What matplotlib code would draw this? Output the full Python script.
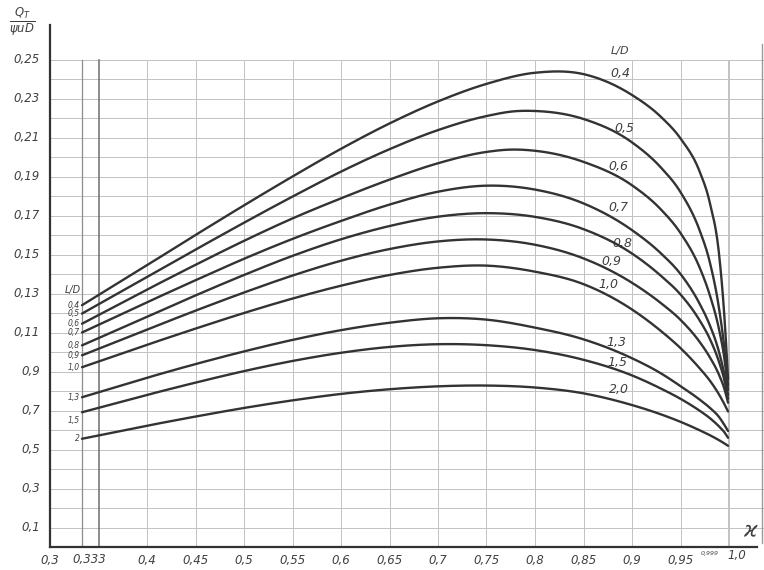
import numpy as np
import matplotlib
matplotlib.use("Agg")
import matplotlib.pyplot as plt

# ---------------------------------------------------------------
# Q_T / (psi u D) as a function of kappa for several L/D ratios
# ---------------------------------------------------------------
kappa = [0.333, 0.40, 0.45, 0.50, 0.55, 0.60, 0.65, 0.70, 0.75, 0.80,
         0.85, 0.90, 0.93, 0.95, 0.97, 0.98, 0.99, 0.995, 0.999]

kappa_04 = [0.333, 0.40, 0.45, 0.50, 0.55, 0.60, 0.65, 0.70, 0.75, 0.80,
            0.85, 0.90, 0.93, 0.95, 0.97, 0.98, 0.99, 0.995, 0.999]
q_04 = [0.124, 0.1445, 0.160, 0.1752, 0.190, 0.2042, 0.2172, 0.2285, 0.2375, 0.2432,
        0.2425, 0.2318, 0.2205, 0.2095, 0.1922, 0.177, 0.149, 0.120, 0.086]

kappa_05 = [0.333, 0.40, 0.45, 0.50, 0.55, 0.60, 0.65, 0.70, 0.75, 0.78,
            0.80, 0.85, 0.90, 0.93, 0.95, 0.97, 0.98, 0.99, 0.995, 0.999]
q_05 = [0.1197, 0.1385, 0.1525, 0.1663, 0.1797, 0.1925, 0.204, 0.2138, 0.221, 0.2235,
        0.2236, 0.2195, 0.2075, 0.1945, 0.182, 0.162, 0.1465, 0.1215, 0.103, 0.083]

kappa_06 = [0.333, 0.40, 0.45, 0.50, 0.55, 0.60, 0.65, 0.70, 0.75, 0.775,
            0.80, 0.85, 0.90, 0.93, 0.95, 0.97, 0.98, 0.99, 0.995, 0.999]
q_06 = [0.1145, 0.132, 0.1447, 0.157, 0.1685, 0.1788, 0.1884, 0.1968, 0.2026, 0.2038,
        0.2032, 0.1975, 0.1855, 0.173, 0.161, 0.143, 0.1295, 0.111, 0.0975, 0.0805]

q_07 = [0.110, 0.1255, 0.1368, 0.1478, 0.1580, 0.1672, 0.1756, 0.1822, 0.1853, 0.1833,
        0.1762, 0.1625, 0.1505, 0.140, 0.1245, 0.114, 0.0995, 0.089, 0.078]
q_08 = [0.1034, 0.118, 0.129, 0.1395, 0.1493, 0.1578, 0.1646, 0.1694, 0.1712, 0.1693,
        0.163, 0.1505, 0.139, 0.1295, 0.116, 0.107, 0.0945, 0.086, 0.076]
q_09 = [0.0983, 0.1115, 0.1212, 0.1305, 0.1392, 0.1468, 0.1528, 0.1567, 0.1577, 0.155,
        0.148, 0.1355, 0.125, 0.1165, 0.105, 0.0975, 0.088, 0.0815, 0.074]
q_10 = [0.0922, 0.1037, 0.112, 0.120, 0.1274, 0.134, 0.1395, 0.1432, 0.1443, 0.1412,
        0.1348, 0.1218, 0.1107, 0.102, 0.0915, 0.0855, 0.078, 0.0735, 0.0695]
q_13 = [0.0768, 0.0868, 0.0938, 0.1003, 0.1062, 0.1112, 0.1150, 0.1173, 0.1166, 0.1125,
        0.1065, 0.0968, 0.089, 0.0825, 0.0755, 0.0715, 0.0665, 0.0628, 0.0595]
q_15 = [0.0691, 0.078, 0.0843, 0.0902, 0.0954, 0.0996, 0.1026, 0.104, 0.1035, 0.101,
        0.096, 0.088, 0.0812, 0.076, 0.0698, 0.0662, 0.0617, 0.059, 0.056]
q_20 = [0.0555, 0.0622, 0.0669, 0.0713, 0.0752, 0.0785, 0.0809, 0.0824, 0.0828, 0.0818,
        0.0788, 0.0728, 0.068, 0.0642, 0.0598, 0.0574, 0.0547, 0.0532, 0.0519]

ratio_right = ["0,4", "0,5", "0,6", "0,7", "0,8", "0,9", "1,0", "1,3", "1,5", "2,0"]
ratio_left = ["0,4", "0,5", "0,6", "0,7", "0,8", "0,9", "1,0", "1,3", "1,5", "2"]

x_ticks = [0.30, 0.40, 0.45, 0.50, 0.55, 0.60, 0.65, 0.70, 0.75, 0.80, 0.85, 0.90, 0.95]
x_tick_text = ["0,3", "0,4", "0,45", "0,5", "0,55", "0,6", "0,65", "0,7", "0,75",
               "0,8", "0,85", "0,9", "0,95"]
y_ticks = [0.01, 0.03, 0.05, 0.07, 0.09, 0.11, 0.13, 0.15, 0.17, 0.19, 0.21, 0.23, 0.25]
y_tick_text = ["0,1", "0,3", "0,5", "0,7", "0,9", "0,11", "0,13", "0,15", "0,17",
               "0,19", "0,21", "0,23", "0,25"]

curves = [(kappa_04, q_04), (kappa_05, q_05), (kappa_06, q_06), (kappa, q_07),
          (kappa, q_08), (kappa, q_09), (kappa, q_10), (kappa, q_13),
          (kappa, q_15), (kappa, q_20)]


def smooth_curve(x, y, xs):
    """Cubic Hermite curve through the points, with three-point slopes."""
    x = np.asarray(x, float)
    y = np.asarray(y, float)
    h = np.diff(x)
    d = np.diff(y) / h
    m = np.empty_like(y)
    m[1:-1] = (h[1:] * d[:-1] + h[:-1] * d[1:]) / (h[:-1] + h[1:])
    m[0] = d[0]
    m[-1] = d[-1] + (d[-1] - d[-2]) * h[-1] / (h[-1] + h[-2])
    i = np.clip(np.searchsorted(x, xs) - 1, 0, len(x) - 2)
    t = (xs - x[i]) / h[i]
    h00 = 2 * t**3 - 3 * t**2 + 1
    h10 = t**3 - 2 * t**2 + t
    h01 = -2 * t**3 + 3 * t**2
    h11 = t**3 - t**2
    return h00 * y[i] + h10 * h[i] * m[i] + h01 * y[i + 1] + h11 * h[i] * m[i + 1]


INK = "#333333"
TEXT = "#3f3f3f"
GRID = "#c2c2c2"

W, H = 764, 570
fig = plt.figure(figsize=(W / 100, H / 100), dpi=100, facecolor="white")
ax = fig.add_axes([50 / W, 23 / H, 714 / W, 526.5 / H])
x_max = 0.3 + 714 / 970
ax.set_xlim(0.3, x_max)
ax.set_ylim(0, 0.27)
ax.set_axis_off()

hand = dict(family="DejaVu Sans", style="italic", color=TEXT)

# millimetre-paper style grid
for yv in np.arange(1, 26) / 100:
    ax.plot([0.3, x_max], [yv, yv], color=GRID, lw=0.7, zorder=1)
for xv in [0.40, 0.45, 0.50, 0.55, 0.60, 0.65, 0.70, 0.75, 0.80, 0.85, 0.90, 0.95, 0.999, 1.0]:
    ax.plot([xv, xv], [0, 0.25], color=GRID, lw=0.7, zorder=1)
ax.plot([0.333, 0.333], [0, 0.25], color="#8c8c8c", lw=0.9, zorder=1)
ax.plot([0.35, 0.35], [0, 0.25], color="#6e6e6e", lw=1.1, zorder=1)
ax.plot([1.034, 1.034], [0.002, 0.258], color="#9a9a9a", lw=1.0, zorder=1)

# axes drawn by hand
ax.plot([0.3, 0.3], [0, 0.2675], color=INK, lw=1.6, zorder=3, clip_on=False)
ax.plot([0.3, 1.029], [0, 0], color=INK, lw=1.6, zorder=3, clip_on=False)

# curves
for xs_pts, ys_pts in curves:
    xs = np.linspace(xs_pts[0], xs_pts[-1], 900)
    ax.plot(xs, smooth_curve(xs_pts, ys_pts, xs), color=INK, lw=1.7, zorder=4,
            solid_capstyle="round")

# tick labels
for xv, s in zip(x_ticks, x_tick_text):
    ax.text(xv, -0.0068, s, ha="center", va="center", fontsize=8.5,
            clip_on=False, **hand)
ax.text(0.341, -0.0062, "0,333", ha="center", va="center", fontsize=8.5,
        clip_on=False, **hand)
ax.text(0.980, -0.0032, "0,999", ha="center", va="center", fontsize=4.5,
        clip_on=False, **hand)
ax.text(1.008, -0.0045, "1,0", ha="center", va="center", fontsize=8.5,
        clip_on=False, **hand)
for yv, s in zip(y_ticks, y_tick_text):
    ax.text(0.2895, yv, s, ha="right", va="center", fontsize=8.5,
            clip_on=False, **hand)

# curve labels on the right
right_pos = [(0.888, 0.2430), (0.892, 0.2148), (0.886, 0.1950), (0.886, 0.1740),
             (0.890, 0.1555), (0.879, 0.1466), (0.876, 0.1344), (0.884, 0.1050),
             (0.885, 0.0948), (0.887, 0.0809)]
for (xv, yv), s in zip(right_pos, ratio_right):
    ax.text(xv, yv, s, ha="center", va="center", fontsize=9, **hand)
ax.text(0.888, 0.2545, "L/D", ha="center", va="center", fontsize=8, **hand)

# curve labels on the left, next to where each curve starts
ax.text(0.324, 0.1318, "L/D", ha="center", va="center", fontsize=7, **hand)
for (xs_pts, ys_pts), s in zip(curves, ratio_left):
    yv = ys_pts[0] - (0.004 if s == "1,5" else 0.0)
    ax.text(0.331, yv, s, ha="right", va="center", fontsize=5.5, **hand)

# axis names
fig.text(22 / W, 1 - 22 / H, r"$\frac{Q_T}{\psi u D}$", ha="center", va="center",
         fontsize=12, color=TEXT)
fig.text(750 / W, 1 - 532 / H, "ϰ", ha="center", va="center", fontsize=15, **hand)

fig.savefig("out.png", dpi=100, facecolor="white")
